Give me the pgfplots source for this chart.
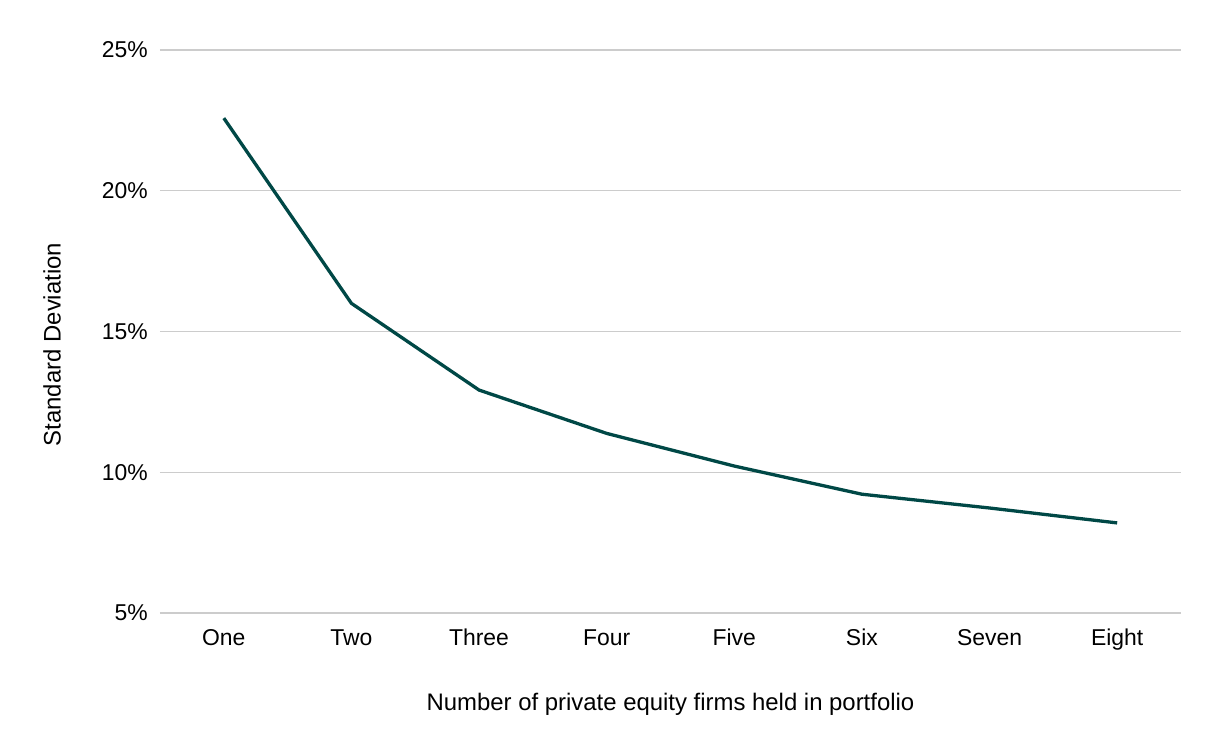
\documentclass[border=0pt]{standalone}
\usepackage{fontspec}
\setmainfont{Liberation Sans}
\usepackage{pgfplots}
\pgfplotsset{compat=1.18}
\definecolor{lineteal}{HTML}{004846}
\definecolor{gridgray}{HTML}{CCCCCC}
\begin{document}
\begin{tikzpicture}[x=1bp,y=1bp]
\path[use as bounding box] (-160bp,-141bp) rectangle (1058bp,613bp);
\begin{axis}[
  at={(0,0)}, anchor=south west,
  scale only axis,
  width=1021bp, height=563bp,
  xmin=-0.5, xmax=7.5,
  ymin=5, ymax=25,
  xtick={0,1,2,3,4,5,6,7},
  xticklabels={One,Two,Three,Four,Five,Six,Seven,Eight},
  ytick={5,10,15,20,25},
  yticklabel={\pgfmathprintnumber{\tick}\%},
  /pgf/number format/assume math mode=true,
  axis line style={draw=none},
  major tick length=0pt,
  ymajorgrids,
  grid style={gridgray, line width=1.5bp},
  tick label style={font=\fontsize{23}{27}\selectfont, text=black, inner sep=0pt},
  xticklabel style={anchor=base, yshift=-32bp},
  yticklabel style={anchor=east, xshift=-12bp},
  xlabel={Number of private equity firms held in portfolio},
  ylabel={Standard Deviation},
  every axis x label/.style={at={(axis description cs:0.5,0)}, anchor=base, yshift=-97.5bp, font=\fontsize{24}{28}\selectfont},
  every axis y label/.style={at={(axis description cs:0,0.5)}, rotate=90, anchor=center, yshift=108bp, xshift=-13bp, font=\fontsize{24}{28}\selectfont},
  clip=false,
]
\addplot[color=lineteal, line width=3.3bp, mark=none] coordinates {
  (0,22.58) (1,16.0) (2,12.92) (3,11.38) (4,10.22) (5,9.22) (6,8.73) (7,8.2)
};
\end{axis}
\end{tikzpicture}
\end{document}
